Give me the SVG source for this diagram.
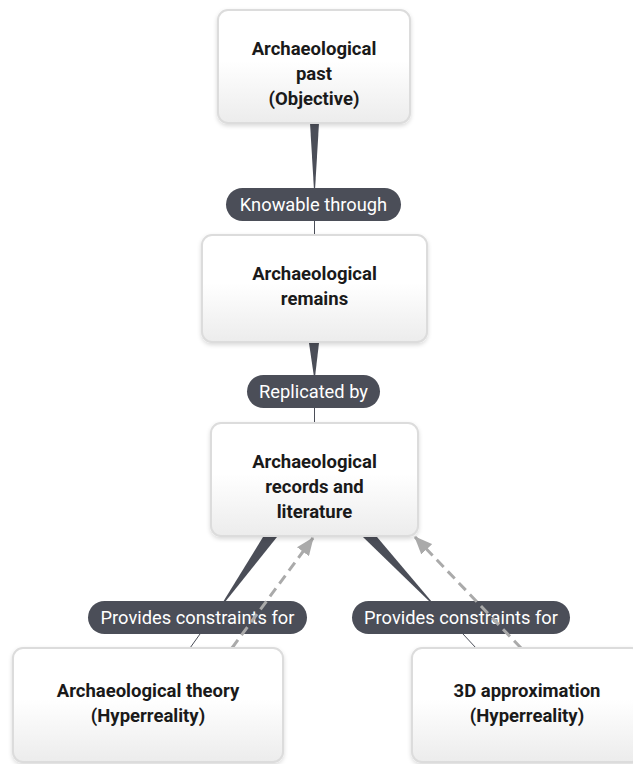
<svg xmlns="http://www.w3.org/2000/svg" width="633" height="764" viewBox="0 0 633 764">
<style>
.box{fill:url(#g);stroke:#dcdcdc;stroke-width:2;filter:url(#sh)}
.t{font-family:Roboto,"Liberation Sans",sans-serif;font-size:18.5px;font-weight:bold;fill:#1a1a1a;text-anchor:middle}
.pill{fill:#4b4e58}
.pt{font-family:Roboto,"Liberation Sans",sans-serif;font-size:18.3px;fill:#ffffff;text-anchor:middle}
.wedge{fill:#4b4e58}
.thin{stroke:#4b4e58;stroke-width:1;fill:none}
.dash{stroke:#aaaaaa;stroke-width:3;stroke-dasharray:10 6;fill:none}
</style>
<defs>
<linearGradient id="g" x1="0" y1="0" x2="0" y2="1">
<stop offset="0" stop-color="#ffffff"/>
<stop offset="0.45" stop-color="#ffffff"/>
<stop offset="1" stop-color="#ececec"/>
</linearGradient>
<filter id="sh" x="-10%" y="-10%" width="120%" height="130%">
<feDropShadow dx="0" dy="2" stdDeviation="2" flood-color="#000" flood-opacity="0.15"/>
</filter>
<marker id="ah" markerWidth="18" markerHeight="15" refX="17" refY="7.5" orient="auto" markerUnits="userSpaceOnUse" viewBox="0 0 18 15">
<path d="M0,0 L18,7.5 L0,15 z" fill="#aaaaaa"/>
</marker>
</defs>
<g id="connectors">
<polygon class="wedge" points="310,123 319,123 315,190 314,190"/>
<line class="thin" x1="314.5" y1="221" x2="314.5" y2="236"/>
<polygon class="wedge" points="309,343 319,343 315,377 314,377"/>
<line class="thin" x1="314.5" y1="408" x2="314.5" y2="424"/>
<polygon class="wedge" points="263,537 277,537 225,602 223,602"/>
<line class="thin" x1="200" y1="634" x2="190" y2="648"/>
<polygon class="wedge" points="363,537 377,537 432,602 430,602"/>
<line class="thin" x1="463" y1="634" x2="476" y2="648"/>
</g>
<g id="label-knowable">
<rect class="pill" x="226" y="188" width="175" height="33" rx="16.5"/>
<text class="pt" x="313.5" y="211">Knowable through</text>
</g>
<g id="label-replicated">
<rect class="pill" x="247" y="375" width="133" height="33" rx="16.5"/>
<text class="pt" x="313.5" y="398">Replicated by</text>
</g>
<g id="label-left">
<rect class="pill" x="88" y="601" width="219" height="33" rx="16.5"/>
<text class="pt" x="197.5" y="624">Provides constraints for</text>
</g>
<g id="label-right">
<rect class="pill" x="352" y="601" width="218" height="33" rx="16.5"/>
<text class="pt" x="461" y="624">Provides constraints for</text>
</g>
<g id="dashed">
<path class="dash" d="M232,648 L313,538" marker-end="url(#ah)"/>
<path class="dash" d="M521,648 L415,537" marker-end="url(#ah)"/>
</g>
<g id="node-past">
<rect class="box" x="218" y="10" width="192" height="113" rx="10"/>
<text class="t" x="314" y="55">Archaeological</text>
<text class="t" x="314" y="80">past</text>
<text class="t" x="314" y="105">(Objective)</text>
</g>
<g id="node-remains">
<rect class="box" x="202" y="235" width="225" height="107" rx="10"/>
<text class="t" x="314.5" y="280">Archaeological</text>
<text class="t" x="314.5" y="305">remains</text>
</g>
<g id="node-records">
<rect class="box" x="211" y="423" width="207" height="113" rx="10"/>
<text class="t" x="314.5" y="468">Archaeological</text>
<text class="t" x="314.5" y="493">records and</text>
<text class="t" x="314.5" y="518">literature</text>
</g>
<g id="node-theory">
<rect class="box" x="13" y="648" width="270" height="114" rx="10"/>
<text class="t" x="148" y="697">Archaeological theory</text>
<text class="t" x="148" y="722">(Hyperreality)</text>
</g>
<g id="node-3d">
<rect class="box" x="412" y="648" width="230" height="114" rx="10"/>
<text class="t" x="527" y="697">3D approximation</text>
<text class="t" x="527" y="722">(Hyperreality)</text>
</g>
</svg>
